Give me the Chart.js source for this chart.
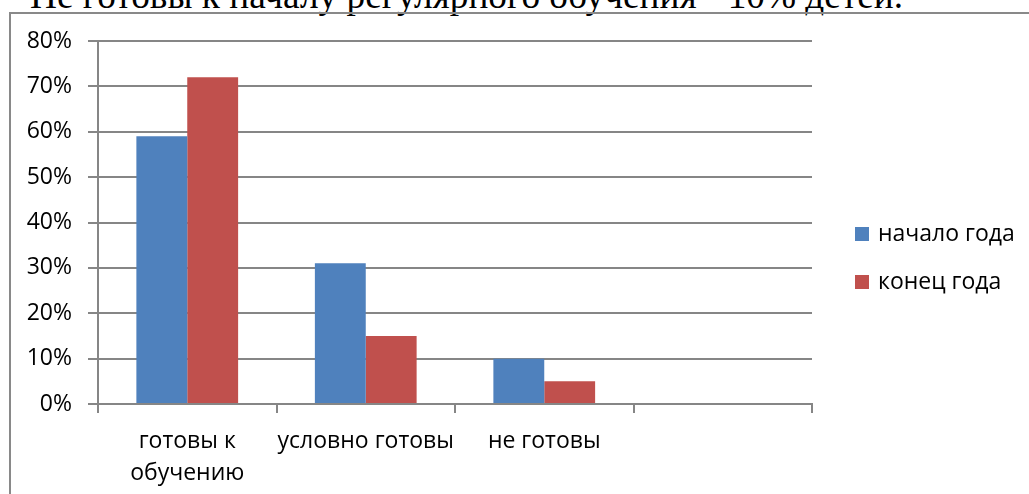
<!DOCTYPE html>
<html><head><meta charset="utf-8">
<script src="https://cdn.jsdelivr.net/npm/chart.js@4"></script>
<style>
html,body{margin:0;padding:0;width:1029px;height:494px;overflow:hidden;background:#fff;}
#frame{position:absolute;left:9px;top:12px;width:1100px;height:600px;border:2px solid #898989;box-sizing:border-box;}
#title{position:absolute;left:0;top:0;}
#wrap{position:absolute;left:0;top:0;width:1029px;height:494px;}
</style></head>
<body>
<svg id="title" width="1029" height="30"><text id="tt" x="30" y="8" font-family="Liberation Serif" font-size="30" fill="#000">Не готовы к началу регулярного обучения - 10% детей.</text></svg>
<div id="frame"></div>
<div id="wrap"><canvas id="c"></canvas></div>
<script>
const categories = [['готовы к', 'обучению'], 'условно готовы', 'не готовы', ''];
const seriesNames = ['начало года', 'конец года'];
const startValues = [59, 31, 10, null];
const endValues = [72, 15, 5, null];
const yTicks = [0, 10, 20, 30, 40, 50, 60, 70, 80];
const seriesColors = ['#4F81BD', '#C0504D'];

// fit the title width
const tt = document.getElementById('tt');
const w = tt.getComputedTextLength();
tt.setAttribute('font-size', (30 * 873 / w).toFixed(2));

const FONT = 'Open Sans';
const LEGEND_Y = [234, 282];

const sideLegend = {
  id: 'sideLegend',
  afterDraw(chart) {
    const ctx = chart.ctx;
    ctx.save();
    ctx.font = '23px "' + FONT + '"';
    ctx.textBaseline = 'middle';
    chart.data.datasets.forEach((ds, i) => {
      const y = LEGEND_Y[i];
      ctx.fillStyle = ds.backgroundColor;
      ctx.fillRect(855, y - 7, 14, 14);
      ctx.fillStyle = '#000';
      ctx.fillText(ds.label, 878, y);
    });
    ctx.restore();
  }
};

new Chart(document.getElementById('c'), {
  type: 'bar',
  data: {
    labels: categories,
    datasets: [
      { label: seriesNames[0], data: startValues, backgroundColor: seriesColors[0] },
      { label: seriesNames[1], data: endValues, backgroundColor: seriesColors[1] }
    ]
  },
  options: {
    responsive: true,
    maintainAspectRatio: false,
    animation: false,
    layout: { padding: { left: 0, top: 41, right: 217, bottom: 0 } },
    datasets: { bar: { categoryPercentage: 0.57, barPercentage: 1 } },
    plugins: { legend: { display: false }, tooltip: { enabled: false }, title: { display: false } },
    scales: {
      x: {
        afterFit: (s) => { s.height = 90; },
        grid: { display: true, drawOnChartArea: false, drawTicks: true, tickLength: 9, offset: true, color: '#868686', lineWidth: 2 },
        border: { display: true, color: '#868686', width: 2 },
        ticks: { color: '#000', font: { family: FONT, size: 23, lineHeight: 1.4 }, padding: 12, maxRotation: 0, autoSkip: false }
      },
      y: {
        min: 0, max: 80,
        afterFit: (s) => { s.width = 98; },
        afterBuildTicks: (s) => { s.ticks = yTicks.map(v => ({ value: v })); },
        grid: { color: '#868686', lineWidth: 2, tickLength: 10, drawTicks: true },
        border: { display: true, color: '#868686', width: 2 },
        ticks: { color: '#000', font: { family: FONT, size: 23 }, padding: 16, callback: (v) => v + '%' }
      }
    }
  },
  plugins: [sideLegend]
});
</script>
</body></html>
